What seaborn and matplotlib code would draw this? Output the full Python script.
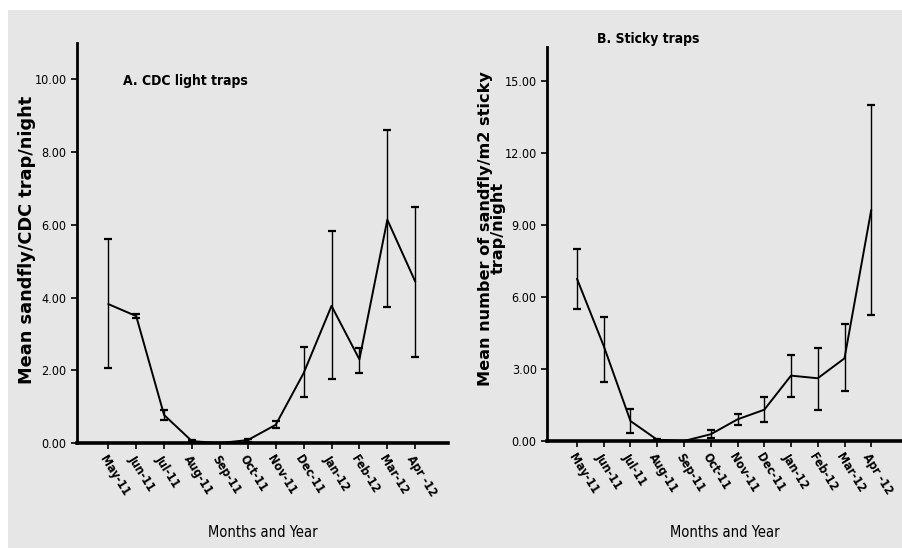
import numpy as np
import pandas as pd
import matplotlib
matplotlib.use('Agg')
import matplotlib.pyplot as plt
import seaborn as sns
from matplotlib.patches import Rectangle

months = ['May-11', 'Jun-11', 'Jul-11', 'Aug-11', 'Sep-11', 'Oct-11',
          'Nov-11', 'Dec-11', 'Jan-12', 'Feb-12', 'Mar-12', 'Apr-12']

# A. CDC light traps
cdc_mean = [3.82, 3.49, 0.77, 0.05, 0.0, 0.08, 0.50, 1.92, 3.77, 2.30, 6.14, 4.44]
cdc_low = [2.05, 3.44, 0.63, 0.02, 0.0, 0.04, 0.41, 1.27, 1.77, 1.93, 3.74, 2.37]
cdc_high = [5.61, 3.54, 0.90, 0.08, 0.0, 0.12, 0.61, 2.63, 5.84, 2.61, 8.60, 6.50]

# B. Sticky traps
sticky_mean = [6.75, 3.95, 0.83, 0.05, 0.0, 0.28, 0.90, 1.30, 2.72, 2.61, 3.44, 9.62]
sticky_low = [5.48, 2.45, 0.34, 0.02, 0.0, 0.12, 0.65, 0.80, 1.85, 1.30, 2.07, 5.26]
sticky_high = [8.00, 5.17, 1.33, 0.08, 0.0, 0.45, 1.12, 1.83, 3.57, 3.86, 4.86, 14.0]

tick_labels = ['May-11', 'Jun-11', 'Jul-11', 'Aug-11', 'Sep-11', 'Oct-11',
               'Nov-11', 'Dec-11', 'Jan-12', 'Feb-12', 'Mar-12', 'Apr -12']

bg = '#e6e6e6'

sns.set_style('ticks')
plt.rcParams['font.family'] = ['DejaVu Sans']
plt.rcParams['text.color'] = 'black'

fig = plt.figure(figsize=(9.03, 5.48), dpi=100)
fig.patch.set_facecolor('white')
fig.patches.append(Rectangle((8 / 903, 0), 1, 1 - 10 / 548, transform=fig.transFigure,
                             facecolor=bg, edgecolor='none', zorder=-10))

axA = fig.add_axes([0.0853, 0.1916, 0.411, 0.730])
axB = fig.add_axes([0.6058, 0.1953, 0.394, 0.719])

narrow = dict(family='DejaVu Sans', stretch='condensed')


def draw(ax, mean, low, high, ylim, yticks, xlab_y):
    df = pd.DataFrame({'Month': months, 'Mean': mean})
    ax.set_facecolor('none')
    sns.lineplot(data=df, x='Month', y='Mean', ax=ax, color='black', lw=1.4, sort=False)
    m = np.array(mean)
    err = [m - np.array(low), np.array(high) - m]
    ax.errorbar(months, m, yerr=err, fmt='none', ecolor='black', elinewidth=1.0,
                capsize=3, capthick=1.6)
    ax.set_xlim(-1.12, 12.18)
    ax.set_ylim(*ylim)
    ax.set_yticks(yticks)
    ax.set_yticklabels([f'{t:.2f}' for t in yticks], fontsize=9, color='black', **narrow)
    ax.set_xticks(range(len(months)))
    ax.set_xticklabels(tick_labels, rotation=-58, ha='left', va='top',
                       rotation_mode='anchor', fontsize=8.8, fontweight='bold',
                       color='black', **narrow)
    ax.tick_params(axis='both', length=4, width=1.2, color='black')
    ax.tick_params(axis='x', pad=3)
    for s in ['top', 'right']:
        ax.spines[s].set_visible(False)
    ax.spines['left'].set_linewidth(2.0)
    ax.spines['left'].set_color('black')
    ax.spines['bottom'].set_linewidth(2.6)
    ax.spines['bottom'].set_color('black')
    ax.set_xlabel('Months and Year', fontsize=10.5, color='black', **narrow)
    ax.xaxis.set_label_coords(0.5, xlab_y)


draw(axA, cdc_mean, cdc_low, cdc_high, (0, 11.0), [0, 2, 4, 6, 8, 10], -0.205)
draw(axB, sticky_mean, sticky_low, sticky_high, (0, 16.4), [0, 3, 6, 9, 12, 15], -0.213)

axA.set_ylabel('Mean sandfly/CDC trap/night', fontsize=12.8, fontweight='bold', color='black')
axA.yaxis.set_label_coords(-0.11, 0.508)
axB.set_ylabel('Mean number of sandfly/m2 sticky\ntrap/night', fontsize=11.6,
               fontweight='bold', linespacing=0.8, color='black')
axB.yaxis.set_label_coords(-0.117, 0.54)

axA.text(0.125, 0.905, 'A. CDC light traps', transform=axA.transAxes,
         fontsize=10, fontweight='bold', va='center', **narrow)
axB.text(0.14, 1.02, 'B. Sticky traps', transform=axB.transAxes,
         fontsize=10, fontweight='bold', va='center', **narrow)

fig.savefig('out.png', dpi=100, facecolor=fig.get_facecolor())
